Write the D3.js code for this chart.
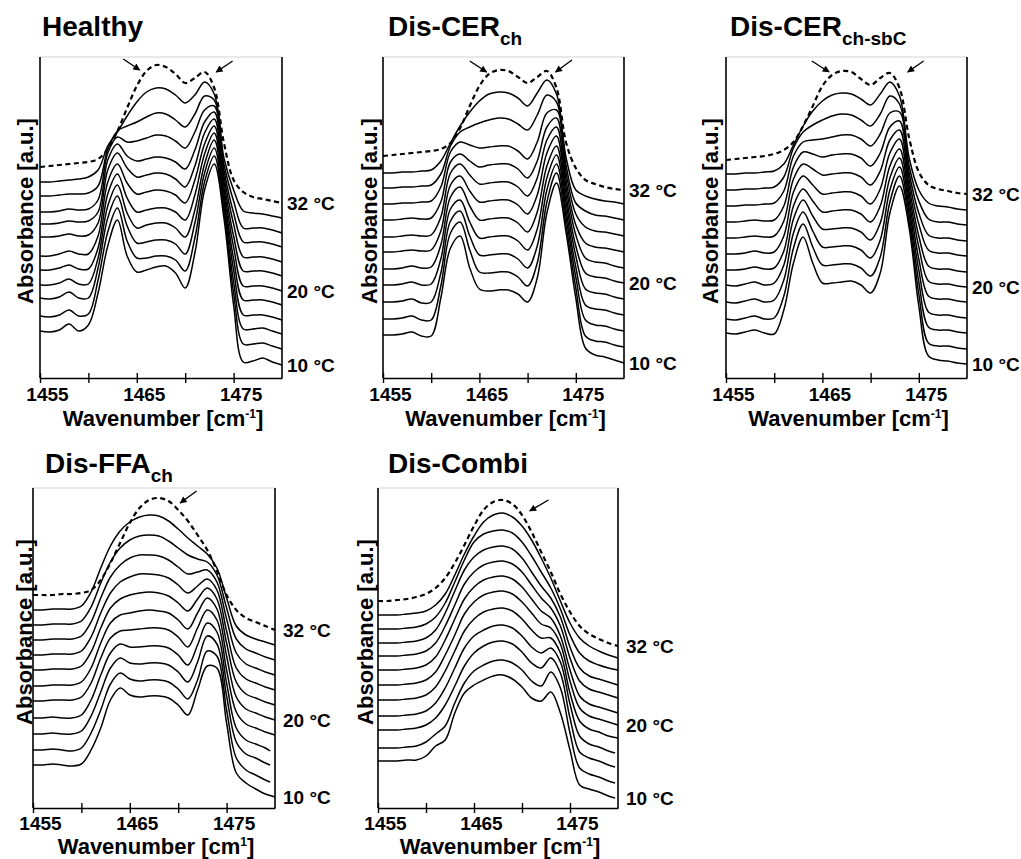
<!DOCTYPE html>
<html>
<head>
<meta charset="utf-8">
<script src="https://cdn.jsdelivr.net/npm/d3@7"></script>
<style>
  html, body { margin: 0; padding: 0; background: #fff; }
  svg { display: block; }
  text { font-family: "Liberation Sans", Arial, Helvetica, sans-serif; font-weight: bold; fill: #000; }
</style>
</head>
<body>
<svg id="chart" width="1021" height="859"></svg>
<script>
// ---------------- DATA ----------------
const wavenumbers = [1455,1456,1457,1458,1459,1460,1461,1462,1463,1464,1465,1466,1467,1468,1469,1470,1471,1472,1473,1474,1475,1476,1477,1478,1479,1480];
const temperatures = [10,12,14,16,18,20,22,24,26,28,30,32];   // last one (32 °C) is drawn dashed
const labelledTemps = [32, 20, 10];
const xTickValues = [1455, 1460, 1465, 1470, 1475];
const xTickLabels = [1455, 1465, 1475];

// absorbance (a.u.), one row per temperature (10 °C ... 32 °C)
const healthy = [
  [47,46,48,54,47,53,85,132,158,122,106,108,111,112,105,90,125,188,214,160,73,16,17,20,16,13],
  [62,61,63,68,62,64,98,146,170,137,120,120,122,122,118,107,140,196,222,166,85,34,34,35,32,29],
  [80,79,81,86,80,80,110,160,182,152,135,136,138,138,134,124,155,205,230,172,96,49,49,50,47,44],
  [93,93,95,99,94,94,120,172,193,165,150,153,155,155,150,141,168,214,238,178,108,63,63,63,61,58],
  [108,108,110,113,109,109,130,184,204,180,166,168,170,170,166,158,183,224,245,184,119,78,78,78,76,73],
  [122,122,124,127,124,124,142,196,214,195,184,186,188,187,183,175,198,234,252,190,131,92,92,92,90,87],
  [141,141,142,144,142,143,155,208,225,210,201,203,205,204,199,191,212,245,259,196,142,107,107,107,105,102],
  [154,154,155,157,156,157,166,218,234,222,217,219,221,220,216,209,228,256,266,202,154,121,121,121,119,116],
  [166,166,167,169,168,169,178,225,241,236,237,240,243,242,237,230,246,268,272,208,165,136,136,136,134,131],
  [182,182,183,184,184,185,192,229,247,252,256,261,265,264,258,251,264,282,278,214,177,150,150,150,148,145],
  [196,196,197,198,199,201,208,232,246,262,276,286,290,289,283,275,283,296,284,220,188,167,165,164,162,160],
  [211,212,213,214,215,216,219,229,247,270,292,307,313,311,304,295,300,306,290,235,198,186,181,179,177,175]
];
const disCerCh = [
  [43,43,44,46,42,42,80,130,142,110,89,87,88,88,84,76,100,165,195,145,80,30,23,21,18,15],
  [59,59,60,62,58,58,92,145,156,128,106,105,106,106,101,92,115,176,205,152,90,42,37,36,33,31],
  [76,76,77,79,75,76,105,157,167,142,123,123,124,124,119,110,132,188,214,160,101,58,53,52,49,47],
  [93,93,94,96,93,94,119,169,178,156,140,141,142,142,137,128,149,200,223,167,111,73,69,68,65,63],
  [109,109,110,112,110,111,133,181,191,172,158,159,160,160,155,146,166,212,232,175,122,89,85,84,81,79],
  [126,126,127,128,127,128,147,193,202,187,176,177,178,178,173,164,183,225,242,182,132,105,101,100,97,95],
  [141,141,142,143,142,143,161,205,214,203,194,195,196,196,191,182,200,238,251,190,143,120,116,115,112,110],
  [158,158,159,160,159,160,176,216,224,217,211,213,214,214,209,200,217,251,260,197,153,135,131,130,128,126],
  [174,174,175,175,176,177,191,226,236,233,230,231,232,232,227,219,236,265,268,205,164,151,147,146,144,142],
  [190,190,191,191,192,193,204,232,246,251,255,258,260,259,254,248,263,283,276,212,175,167,163,162,160,158],
  [205,205,206,206,207,208,217,235,252,266,277,284,286,285,280,272,285,298,284,220,188,182,179,177,176,174],
  [222,223,224,225,226,227,229,235,250,272,292,304,308,307,301,295,301,307,290,235,210,198,194,191,189,188]
];
const disCerChSbC = [
  [45,44,46,48,45,44,68,115,141,115,95,95,96,97,93,85,105,165,192,150,72,22,18,17,15,14],
  [59,58,60,62,59,60,82,130,154,131,113,113,114,114,110,102,121,176,202,156,84,35,32,32,30,29],
  [76,75,77,79,76,78,98,145,166,147,131,131,132,132,128,120,138,188,211,163,96,51,48,48,46,45],
  [93,92,94,96,93,95,113,159,178,162,149,149,150,150,146,138,155,200,220,170,108,66,63,63,61,60],
  [108,108,109,111,109,110,127,172,189,177,166,167,168,168,164,156,172,212,229,177,119,82,79,79,77,76],
  [124,124,125,127,125,126,142,186,202,193,184,185,186,186,182,174,189,225,239,184,131,97,94,94,92,91],
  [140,140,141,142,141,142,157,199,214,209,203,204,205,205,201,193,207,238,248,191,142,112,109,109,107,106],
  [156,156,157,158,157,158,172,211,226,224,221,223,224,224,220,212,225,251,257,198,154,128,125,125,123,122],
  [172,172,173,173,174,175,187,222,236,238,239,241,243,243,239,232,244,265,266,205,165,143,140,140,138,137],
  [188,188,189,189,190,191,201,230,246,253,258,262,264,263,258,252,264,282,274,212,177,159,156,156,154,153],
  [204,204,205,205,206,207,214,233,252,267,277,283,285,284,279,273,284,296,282,220,188,175,172,171,169,168],
  [218,219,220,221,222,224,228,236,252,272,292,303,307,306,299,293,300,305,290,240,206,193,189,187,185,184]
];
const disFfaCh = [
  [43,43,44,43,42,44,58,80,108,120,113,111,112,112,110,103,93,118,142,140,85,35,25,19,14,11],
  [58,58,59,58,57,60,75,98,124,135,129,127,128,128,126,119,109,128,157,152,98,50,38,33,28,26],
  [74,74,75,74,74,77,92,116,140,150,145,144,145,145,143,136,126,146,172,164,112,66,54,50,45,43],
  [90,90,91,90,90,93,108,133,155,164,161,161,162,162,160,153,143,163,185,176,125,80,68,64,60,57],
  [107,107,108,108,108,111,125,150,170,177,178,179,180,180,178,171,161,180,198,188,138,96,84,80,76,73],
  [122,122,123,123,123,126,140,165,185,193,195,197,198,197,195,188,179,195,210,199,152,111,99,95,91,88],
  [138,138,139,139,139,142,156,180,200,209,213,215,216,215,212,205,197,209,220,209,165,126,114,110,106,103],
  [153,153,154,154,154,157,171,195,215,226,231,234,234,233,230,223,215,222,229,218,177,140,129,125,121,118],
  [168,168,169,169,169,172,186,210,231,243,250,253,253,252,248,241,234,236,238,226,189,155,144,140,136,133],
  [183,183,184,184,184,187,201,225,246,260,268,272,273,272,267,260,253,249,246,233,200,169,159,155,151,148],
  [198,198,199,199,199,202,216,240,262,277,286,291,293,292,287,279,270,262,254,240,210,182,173,169,166,163],
  [213,213,213,214,214,215,218,228,245,265,285,300,308,310,307,298,287,273,258,237,213,198,190,186,182,178]
];
const disCombi = [
  [47,47,47,48,48,52,62,68,95,115,123,128,132,133,129,121,110,107,116,95,58,23,19,16,12,10],
  [60,60,60,61,62,66,74,82,105,125,137,143,147,148,145,138,127,122,136,120,75,40,34,31,27,25],
  [78,78,78,79,80,83,90,103,122,142,155,162,166,167,164,156,145,140,150,135,90,56,50,47,43,41],
  [92,92,92,93,94,97,105,120,140,160,172,178,182,183,180,172,161,155,160,146,104,72,64,61,57,55],
  [108,108,108,109,110,113,121,137,157,177,189,196,199,200,197,189,178,170,170,155,115,87,79,76,72,70],
  [123,123,123,124,125,128,136,153,173,194,206,213,216,217,214,206,195,184,180,164,127,100,92,89,86,83],
  [138,138,138,139,140,143,151,168,189,209,221,228,231,232,229,221,209,197,190,172,138,112,104,101,98,95],
  [152,152,152,153,154,157,165,182,203,224,236,243,246,247,244,236,223,210,200,182,150,127,119,116,113,110],
  [165,165,165,166,167,170,178,195,217,238,251,258,261,262,259,250,236,222,210,191,161,140,132,129,126,123],
  [179,179,179,180,181,184,191,205,226,248,266,274,277,278,275,266,252,236,220,199,173,155,147,143,140,138],
  [193,193,193,194,195,197,203,214,233,254,272,286,293,295,291,282,268,250,230,207,185,170,162,157,153,150],
  [207,207,208,209,211,214,220,230,245,263,282,298,306,308,304,293,276,256,236,214,196,182,174,169,165,162]
];
// last recorded wavenumber of each spectrum (some stop short of 1480)
const disFfaChEnd  = [1480,1479.5,1479.5,1479.5,1480,1480,1480,1480,1480,1480,1480,1480];
const disCombiEnd  = [1479.7,1479.7,1479.7,1479.7,1480,1480,1480,1480,1480,1480,1480,1480];
// arrows: [tip wavenumber, tip absorbance, tail wavenumber, tail absorbance]
const healthyArrows   = [[1465.3,308,1463.6,319],[1473.2,306,1474.9,317]];
const disCerChArrows  = [[1465.75,306,1464.0,317],[1472.9,306,1474.6,318]];
const disCerChSbCArrows = [[1465.7,306,1463.9,317],[1473.85,306,1475.5,317]];
const disFfaChArrows  = [[1470.2,305,1471.9,317]];
const disCombiArrows  = [[1470.8,297,1472.75,308]];

// ---------------- LAYOUT ----------------
const panels = [
  {title:"Healthy",  sub:"",       data:healthy,     end:null,        arrows:healthyArrows,
   x0:40,  x1:282, y0:57,  y1:378, titleX:42,  titleY:36,  ylabX:33,  ylabY:211, sup:"-1", tempDx:5, tickY:23, xtY:48},
  {title:"Dis-CER",  sub:"ch",     data:disCerCh,    end:null,        arrows:disCerChArrows,
   x0:383, x1:624, y0:57,  y1:378, titleX:388, titleY:36,  ylabX:377, ylabY:211, sup:"-1", tempDx:5, tickY:23, xtY:48},
  {title:"Dis-CER",  sub:"ch-sbC", data:disCerChSbC, end:null,        arrows:disCerChSbCArrows,
   x0:726, x1:967, y0:57,  y1:378, titleX:730, titleY:36,  ylabX:718, ylabY:211, sup:"-1", tempDx:5, tickY:23, xtY:48},
  {title:"Dis-FFA",  sub:"ch",     data:disFfaCh,    end:disFfaChEnd, arrows:disFfaChArrows,
   x0:33,  x1:275, y0:488, y1:808, titleX:45,  titleY:473, ylabX:32,  ylabY:632, sup:"1",  tempDx:8, tickY:21.5, xtY:45.5},
  {title:"Dis-Combi",sub:"",       data:disCombi,    end:disCombiEnd, arrows:disCombiArrows,
   x0:378, x1:618, y0:488, y1:808, titleX:388, titleY:473, ylabX:373, ylabY:632, sup:"-1", tempDx:8, tickY:21.5, xtY:45.5}
];

const svg = d3.select("#chart");
const defs = svg.append("defs");
defs.append("marker")
  .attr("id", "arrowhead").attr("viewBox", "0 0 10 10")
  .attr("refX", 9).attr("refY", 5)
  .attr("markerWidth", 9).attr("markerHeight", 7)
  .attr("markerUnits", "userSpaceOnUse")
  .attr("orient", "auto")
  .append("path").attr("d", "M0,0 L10,5 L0,10 Z").attr("fill", "#000");

panels.forEach(p => {
  const g = svg.append("g");
  const x = d3.scaleLinear().domain([1455, 1480]).range([p.x0, p.x1]);
  const y = d3.scaleLinear().domain([0, 320]).range([p.y1, p.y1 - 320]);

  // title
  const t = g.append("text").attr("x", p.titleX).attr("y", p.titleY).style("font-size", "28px");
  t.append("tspan").text(p.title);
  if (p.sub) t.append("tspan").attr("dy", 9).style("font-size", "19px").text(p.sub);

  // frame: faint top, left, right
  g.append("line").attr("x1", p.x0).attr("x2", p.x1).attr("y1", p.y0).attr("y2", p.y0)
    .attr("stroke", "#c8c8c8").attr("stroke-width", 0.8);
  g.append("line").attr("x1", p.x0).attr("x2", p.x0).attr("y1", p.y0).attr("y2", p.y1)
    .attr("stroke", "#000").attr("stroke-width", 1.6);
  g.append("line").attr("x1", p.x1).attr("x2", p.x1).attr("y1", p.y0).attr("y2", p.y1)
    .attr("stroke", "#000").attr("stroke-width", 1.6);

  // x axis
  const axis = d3.axisBottom(x).tickValues(xTickValues).tickSizeInner(5).tickSizeOuter(0)
    .tickFormat(d => xTickLabels.includes(d) ? String(d) : "");
  const ax = g.append("g").attr("transform", `translate(0,${p.y1})`).call(axis);
  ax.select(".domain").attr("stroke", "#000").attr("stroke-width", 1.6);
  ax.selectAll(".tick line").attr("y1", -5).attr("y2", 5).attr("stroke", "#000").attr("stroke-width", 1.4);
  ax.selectAll(".tick text").attr("y", p.tickY).attr("dy", 0).attr("dx", 7)
    .style("font-size", "19px").style("font-family", '"Liberation Sans", Arial, sans-serif')
    .style("font-weight", "bold").attr("fill", "#000");

  // x axis title
  const xt = g.append("text").attr("x", (p.x0 + p.x1) / 2 + 2).attr("y", p.y1 + p.xtY)
    .attr("text-anchor", "middle").style("font-size", "22px");
  xt.append("tspan").text("Wavenumber [cm");
  xt.append("tspan").attr("dy", -8).style("font-size", "12px").text(p.sup);
  xt.append("tspan").attr("dy", 8).text("]");

  // y axis title
  g.append("text")
    .attr("transform", `translate(${p.ylabX},${p.ylabY}) rotate(-90)`)
    .attr("text-anchor", "middle").style("font-size", "22px")
    .text("Absorbance [a.u.]");

  // spectra
  const line = d3.line().x(d => x(d[0])).y(d => y(d[1])).curve(d3.curveCatmullRom.alpha(0.5));
  p.data.forEach((vals, i) => {
    const last = wavenumbers.length - 1;
    const pts = vals.map((v, k) => [k === last && p.end ? p.end[i] : wavenumbers[k], v]);
    const dashed = temperatures[i] === 32;
    g.append("path").datum(pts).attr("d", line)
      .attr("fill", "none").attr("stroke", "#000")
      .attr("stroke-width", dashed ? 2.2 : 1.5)
      .attr("stroke-dasharray", dashed ? "5,3.5" : null)
      .attr("stroke-linejoin", "round");
  });

  // temperature labels
  labelledTemps.forEach(T => {
    const i = temperatures.indexOf(T);
    const vals = p.data[i];
    g.append("text").attr("x", p.x1 + p.tempDx).attr("y", y(vals[vals.length - 1]) + 7)
      .style("font-size", "19px").text(`${T} °C`);
  });

  // arrows
  p.arrows.forEach(a => {
    g.append("line")
      .attr("x1", x(a[2])).attr("y1", y(a[3]))
      .attr("x2", x(a[0])).attr("y2", y(a[1]))
      .attr("stroke", "#000").attr("stroke-width", 1.4)
      .attr("marker-end", "url(#arrowhead)");
  });
});
</script>
</body>
</html>
